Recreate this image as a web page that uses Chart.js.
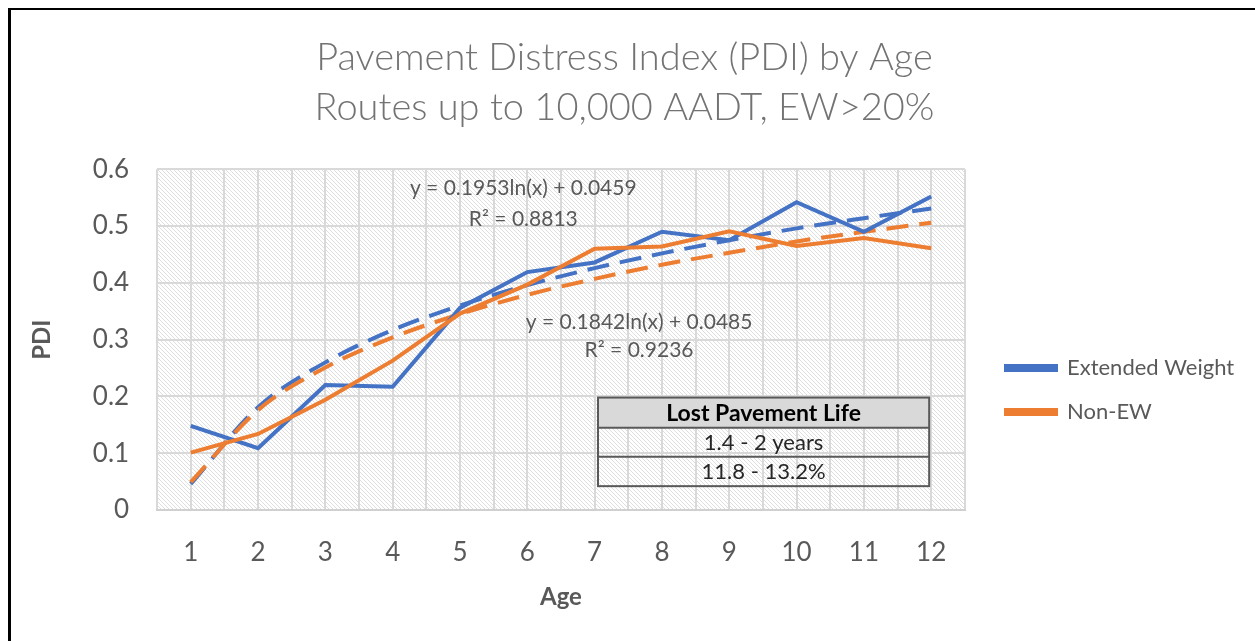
<!DOCTYPE html>
<html>
<head>
<meta charset="utf-8">
<script src="https://cdn.jsdelivr.net/npm/chart.js@4.4.1/dist/chart.umd.min.js"></script>
<style>
  html, body { margin: 0; padding: 0; background: #fff; }
  #wrap { position: absolute; left: 0; top: 0; width: 1255px; height: 641px; }
  #frame { position: absolute; left: 8px; top: 8px; width: 1260px; height: 650px;
           border-top: 2px solid #000; border-left: 3px solid #000; }
</style>
</head>
<body>
<div id="wrap">
  <div id="frame"></div>
  <canvas id="pdiChart" width="1255" height="641"></canvas>
</div>
<script>
const ages = [1, 2, 3, 4, 5, 6, 7, 8, 9, 10, 11, 12];
const extendedWeight = [0.148, 0.109, 0.220, 0.217, 0.356, 0.419, 0.436, 0.490, 0.475, 0.542, 0.490, 0.552];
const nonEW = [0.101, 0.134, 0.194, 0.263, 0.346, 0.397, 0.460, 0.464, 0.491, 0.465, 0.479, 0.461];
// log trendlines
const trendEW = [0.046, 0.181, 0.260, 0.317, 0.360, 0.396, 0.426, 0.452, 0.475, 0.496, 0.514, 0.531];
const trendNonEW = [0.049, 0.176, 0.251, 0.304, 0.345, 0.379, 0.407, 0.432, 0.453, 0.473, 0.490, 0.506];
const yTicks = [0, 0.1, 0.2, 0.3, 0.4, 0.5, 0.6];

const eqEW = ['y = 0.1953ln(x) + 0.0459', 'R² = 0.8813'];
const eqNonEW = ['y = 0.1842ln(x) + 0.0485', 'R² = 0.9236'];
const tableHeader = 'Lost Pavement Life';
const tableRows = ['1.4 - 2 years', '11.8 - 13.2%'];

const BLUE = '#4472C4';
const ORANGE = '#ED7D31';
const FONT = 'Lato, "Open Sans", sans-serif';

// diagonal hatch for the plot area
function makeHatch() {
  const c = document.createElement('canvas');
  c.width = 8; c.height = 8;
  const g = c.getContext('2d');
  g.fillStyle = '#ffffff';
  g.fillRect(0, 0, 8, 8);
  g.strokeStyle = '#dedede';
  g.lineWidth = 1;
  for (let o = -8; o <= 8; o += 4) {
    g.beginPath();
    g.moveTo(o, 0);
    g.lineTo(o + 8, 8);
    g.stroke();
  }
  return g.createPattern(c, 'repeat');
}

const overlays = {
  id: 'overlays',
  afterLayout(chart) {
    // park the legend where Excel put it, right of the plot
    const lg = chart.legend;
    const w = lg.right - lg.left, h = lg.bottom - lg.top;
    lg.left = 984; lg.right = lg.left + w;
    lg.top = 335; lg.bottom = lg.top + h;
  },
  beforeDraw(chart) {
    const { ctx, chartArea: a } = chart;
    ctx.save();
    ctx.fillStyle = makeHatch();
    ctx.fillRect(a.left, a.top, a.right - a.left, a.bottom - a.top);
    ctx.restore();
  },
  afterDatasetsDraw(chart) {
    const { ctx } = chart;
    const x = chart.scales.x, y = chart.scales.y;
    ctx.save();
    ctx.fillStyle = '#595959';
    ctx.font = '21px ' + FONT;
    ctx.textAlign = 'center';
    ctx.textBaseline = 'middle';
    ctx.fillText(eqEW[0], x.getPixelForValue(5.94), y.getPixelForValue(0.566));
    ctx.fillText(eqEW[1], x.getPixelForValue(5.94), y.getPixelForValue(0.512));
    ctx.fillText(eqNonEW[0], x.getPixelForValue(7.66), y.getPixelForValue(0.330));
    ctx.fillText(eqNonEW[1], x.getPixelForValue(7.66), y.getPixelForValue(0.281));

    // the small table
    const l = x.getPixelForValue(7.05), r = x.getPixelForValue(11.97);
    const t = y.getPixelForValue(0.198), r1 = y.getPixelForValue(0.145);
    const r2 = y.getPixelForValue(0.094), b = y.getPixelForValue(0.042);
    ctx.fillStyle = '#d9d9d9';
    ctx.fillRect(l, t, r - l, r1 - t);
    ctx.strokeStyle = '#595959';
    ctx.lineWidth = 2;
    ctx.strokeRect(l, t, r - l, b - t);
    ctx.beginPath();
    ctx.moveTo(l, r1); ctx.lineTo(r, r1);
    ctx.moveTo(l, r2); ctx.lineTo(r, r2);
    ctx.stroke();
    const cx = (l + r) / 2;
    ctx.fillStyle = '#000';
    ctx.font = 'bold 23px ' + FONT;
    ctx.fillText(tableHeader, cx, (t + r1) / 2 + 1);
    ctx.fillStyle = '#262626';
    ctx.font = '22px ' + FONT;
    ctx.fillText(tableRows[0], cx, (r1 + r2) / 2 + 1);
    ctx.fillText(tableRows[1], cx, (r2 + b) / 2 + 1);
    ctx.restore();
  }
};

new Chart(document.getElementById('pdiChart'), {
  type: 'line',
  data: {
    labels: ages,
    datasets: [
      { label: 'Extended Weight', data: extendedWeight, borderColor: BLUE, backgroundColor: BLUE,
        borderWidth: 4, pointRadius: 0, order: 1 },
      { label: 'Non-EW', data: nonEW, borderColor: ORANGE, backgroundColor: ORANGE,
        borderWidth: 4, pointRadius: 0, order: 0 },
      { label: 'Log. (Extended Weight)', data: trendEW, borderColor: BLUE, borderWidth: 4,
        borderDash: [22, 11], pointRadius: 0, cubicInterpolationMode: 'monotone', order: 3 },
      { label: 'Log. (Non-EW)', data: trendNonEW, borderColor: ORANGE, borderWidth: 4,
        borderDash: [22, 11], pointRadius: 0, cubicInterpolationMode: 'monotone', order: 2 }
    ]
  },
  options: {
    responsive: false,
    animation: false,
    layout: { padding: { left: 24, right: 30, top: 0, bottom: 29 } },
    plugins: {
      title: {
        display: true,
        text: ['Pavement Distress Index (PDI) by Age', 'Routes up to 10,000 AADT, EW>20%'],
        color: '#737373',
        font: { family: FONT, size: 38, weight: '300', lineHeight: 1.32 },
        padding: { top: 33, bottom: 36 }
      },
      legend: {
        position: 'right',
        align: 'start',
        labels: {
          boxWidth: 50,
          boxHeight: 4,
          color: '#595959',
          font: { family: FONT, size: 22 },
          padding: 22,
          sort: (a, b) => a.datasetIndex - b.datasetIndex,
          filter: (item) => item.datasetIndex < 2
        }
      },
      tooltip: { enabled: false }
    },
    scales: {
      x: {
        type: 'linear',
        min: 0.5,
        max: 12.5,
        grid: { color: '#d9d9d9', lineWidth: 2, drawTicks: false },
        border: { color: '#d0d0d0', width: 2 },
        ticks: {
          stepSize: 0.5,
          maxTicksLimit: 40,
          autoSkip: false,
          maxRotation: 0,
          padding: 27,
          color: '#595959',
          font: { family: FONT, size: 26 },
          callback: (v) => Number.isInteger(v) ? String(ages[v - 1]) : ''
        },
        title: { display: true, text: 'Age', color: '#595959',
                 font: { family: FONT, size: 24, weight: 'bold' }, padding: { top: -12, bottom: 0 } }
      },
      y: {
        min: 0,
        max: 0.6,
        grid: { color: '#d9d9d9', lineWidth: 2, drawTicks: false },
        border: { display: false },
        afterBuildTicks: (s) => { s.ticks = yTicks.map(v => ({ value: v })); },
        ticks: {
          padding: 28,
          color: '#595959',
          font: { family: FONT, size: 26 },
          callback: (v) => String(v)
        },
        title: { display: true, text: 'PDI', color: '#595959',
                 font: { family: FONT, size: 24, weight: 'bold' }, padding: { bottom: 8 } }
      }
    }
  },
  plugins: [overlays]
});
</script>
</body>
</html>
